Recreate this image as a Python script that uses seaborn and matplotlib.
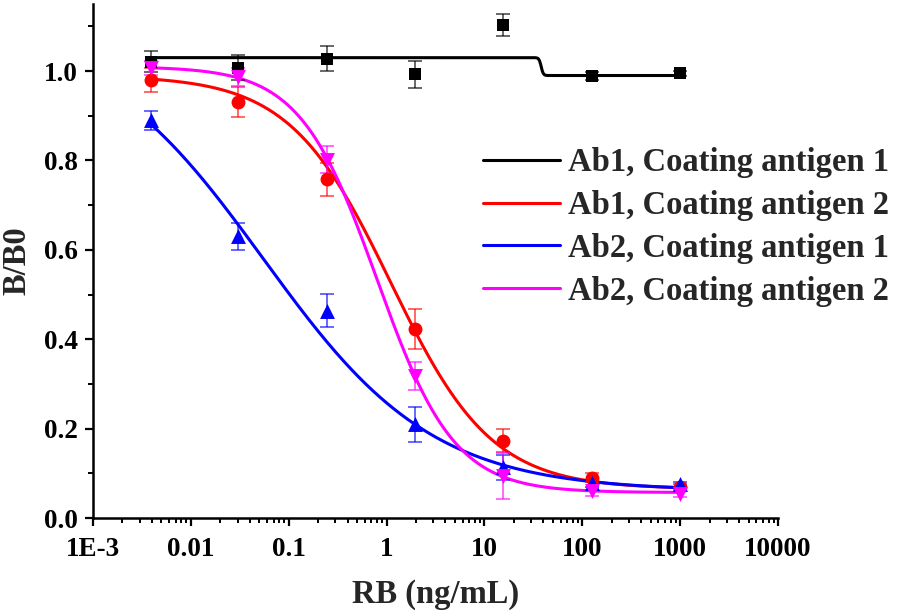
import numpy as np
import matplotlib
matplotlib.use("Agg")
import matplotlib.pyplot as plt
from matplotlib.ticker import MultipleLocator, LogLocator, FixedLocator, NullFormatter
import seaborn as sns

# RB concentrations (ng/mL), 8-fold dilutions
conc = [0.0039, 0.0305, 0.244, 1.953, 15.63, 125, 1000]

labels = ["Ab1, Coating antigen 1", "Ab1, Coating antigen 2",
          "Ab2, Coating antigen 1", "Ab2, Coating antigen 2"]
colors = ["#000000", "#ff0000", "#0000ff", "#ff00ff"]
markers = ["s", "o", "^", "v"]
msizes = [70, 100, 115, 115]

# B/B0 means
ab1_ca1 = [1.021, 1.007, 1.028, 0.993, 1.103, 0.989, 0.995]
ab1_ca2 = [0.980, 0.931, 0.758, 0.423, 0.173, 0.090, 0.069]
ab2_ca1 = [0.890, 0.630, 0.464, 0.210, 0.113, 0.078, 0.075]
ab2_ca2 = [1.007, 0.986, 0.802, 0.318, 0.094, 0.060, 0.054]

# error bars (SD)
err_ab1_ca1 = [0.024, 0.028, 0.027, 0.030, 0.025, 0.008, 0.006]
err_ab1_ca2 = [0.026, 0.033, 0.037, 0.044, 0.026, 0.010, 0.006]
err_ab2_ca1 = [0.021, 0.030, 0.037, 0.039, 0.028, 0.008, 0.006]
err_ab2_ca2 = [0.015, 0.020, 0.030, 0.032, 0.052, 0.010, 0.006]

# four-parameter logistic fits: A1 (top), A2 (bottom), x0, p
fit_ab1_ca1 = (1.030, 0.990, 38.0, 40.0)
fit_ab1_ca2 = (0.990, 0.065, 1.10, 0.84)
fit_ab2_ca1 = (1.100, 0.060, 0.055, 0.50)
fit_ab2_ca2 = (1.010, 0.057, 0.80, 1.10)

means = [ab1_ca1, ab1_ca2, ab2_ca1, ab2_ca2]
errs = [err_ab1_ca1, err_ab1_ca2, err_ab2_ca1, err_ab2_ca2]
fits = [fit_ab1_ca1, fit_ab1_ca2, fit_ab2_ca1, fit_ab2_ca2]


def logistic(x, a1, a2, x0, p):
    return a2 + (a1 - a2) / (1 + (x / x0) ** p)


sns.set_theme(style="ticks")
plt.rcParams["font.family"] = ["Liberation Serif", "DejaVu Serif"]
plt.rcParams["font.weight"] = "bold"

fig = plt.figure(figsize=(8.98, 6.12), dpi=100)
ax = fig.add_axes([93 / 898, 1 - 518 / 612, 685 / 898, 514 / 612])

xs = np.logspace(np.log10(conc[0]), np.log10(conc[-1]), 600)
for lab, col, mk, ms, m, e, f in zip(labels, colors, markers, msizes, means, errs, fits):
    sns.lineplot(x=xs, y=logistic(xs, *f), color=col, linewidth=2.2, label=lab, ax=ax, zorder=2)
    ax.errorbar(conc, m, yerr=e, fmt="none", ecolor=col, elinewidth=1.1,
                capsize=5, capthick=1.1, alpha=0.75, zorder=3)
    sns.scatterplot(x=conc, y=m, color=col, marker=mk, s=ms, linewidth=0, ax=ax, zorder=4)

ax.set_xscale("log")
ax.set_xlim(1e-3, 1e4)
ax.set_ylim(0, 1.15)
ax.xaxis.set_major_locator(FixedLocator([1e-3, 1e-2, 1e-1, 1, 10, 100, 1000, 10000]))
ax.set_xticklabels(["1E-3", "0.01", "0.1", "1", "10", "100", "1000", "10000"])
ax.xaxis.set_minor_locator(LogLocator(base=10, subs=np.arange(2, 10), numticks=20))
ax.xaxis.set_minor_formatter(NullFormatter())
ax.yaxis.set_major_locator(MultipleLocator(0.2))
ax.yaxis.set_minor_locator(MultipleLocator(0.1))
ax.yaxis.set_major_formatter(matplotlib.ticker.FormatStrFormatter("%.1f"))

sns.despine(ax=ax)
for s in ["left", "bottom"]:
    ax.spines[s].set_linewidth(1.8)
    ax.spines[s].set_color("black")
ax.tick_params(which="major", direction="out", length=6, width=1.6, colors="black",
               labelsize=19.5, pad=5)
ax.tick_params(axis="x", which="major", pad=8)
ax.tick_params(which="minor", direction="out", length=3.5, width=1.4, colors="black")
for t in ax.get_xticklabels() + ax.get_yticklabels():
    t.set_fontweight("bold")

ax.set_xlabel("RB (ng/mL)", fontsize=23.5, fontweight="bold", labelpad=12)
ax.set_ylabel("B/B0", fontsize=23.5, fontweight="bold", labelpad=8)

leg = ax.legend(loc="center left", bbox_to_anchor=(483 / 898, 1 - 227 / 612),
                bbox_transform=fig.transFigure, frameon=False, fontsize=23.5,
                handlelength=2.35, handletextpad=0.25, labelspacing=0.36,
                borderpad=0, borderaxespad=0)
for t in leg.get_texts():
    t.set_fontweight("bold")

fig.savefig("out.png", dpi=100)
plt.close(fig)
